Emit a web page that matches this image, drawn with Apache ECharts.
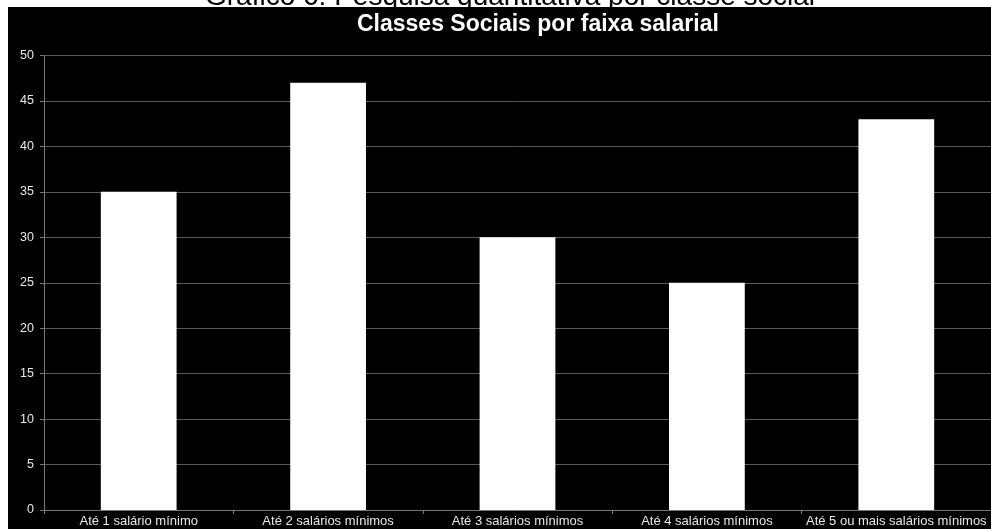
<!DOCTYPE html>
<html>
<head>
    <meta charset="utf-8">
    <title>Classes Sociais por faixa salarial</title>
    <script src="https://cdn.jsdelivr.net/npm/echarts@6/dist/echarts.min.js"></script>
    <style>
        html, body { margin: 0; padding: 0; background: #fff; }
    </style>
</head>
<body>
    <div id="main" style="width: 991px;height:529px;"></div>
    <script type="text/javascript">
        var categories = ['Até 1 salário mínimo', 'Até 2 salários mínimos', 'Até 3 salários mínimos', 'Até 4 salários mínimos', 'Até 5 ou mais salários mínimos'];
        var values = [35, 47, 30, 25, 43];
        var yTicks = { min: 0, max: 50, interval: 5 };

        var myChart = echarts.init(document.getElementById('main'));

        var option = {
            backgroundColor: '#fff',
            animation: false,
            graphic: [
                {
                    // legenda da figura, cortada pelo quadro preto
                    type: 'text',
                    z: 1,
                    left: 205,
                    top: -17,
                    style: {
                        text: 'Gráfico 6: Pesquisa quantitativa por classe social',
                        fontFamily: 'Liberation Sans, Arial',
                        fontSize: 28,
                        fill: '#000'
                    }
                },
                {
                    type: 'rect',
                    z: 2,
                    shape: { x: 8, y: 7, width: 983, height: 522 },
                    style: { fill: '#000' }
                }
            ],
            title: {
                text: 'Classes Sociais por faixa salarial',
                left: 357,
                top: 13,
                padding: 0,
                z: 10,
                textStyle: {
                    color: '#fff',
                    fontFamily: 'Liberation Sans, Arial',
                    fontWeight: 'bold',
                    fontSize: 23
                }
            },
            grid: {
                left: 44,
                right: 0,
                top: 55.5,
                bottom: 19,
                containLabel: false,
                z: 5
            },
            xAxis: {
                type: 'category',
                data: categories,
                z: 5,
                axisLine: { lineStyle: { color: '#777', width: 1 } },
                axisTick: { show: true, length: 4, lineStyle: { color: '#777' } },
                axisLabel: {
                    color: '#e8e8e8',
                    fontFamily: 'Liberation Sans, Arial',
                    fontSize: 13,
                    margin: 5,
                    interval: 0
                }
            },
            yAxis: {
                type: 'value',
                min: yTicks.min,
                max: yTicks.max,
                interval: yTicks.interval,
                z: 5,
                axisLine: { show: true, lineStyle: { color: '#777', width: 1 } },
                axisTick: { show: true, length: 4, lineStyle: { color: '#777' } },
                axisLabel: {
                    color: '#e8e8e8',
                    fontFamily: 'Liberation Sans, Arial',
                    fontSize: 12.5,
                    margin: 10
                },
                splitLine: { lineStyle: { color: '#5a5a5a', width: 1 } }
            },
            series: [{
                type: 'bar',
                data: values,
                barWidth: '40%',
                z: 6,
                itemStyle: { color: '#fff' }
            }]
        };

        myChart.setOption(option);
    </script>
</body>
</html>
